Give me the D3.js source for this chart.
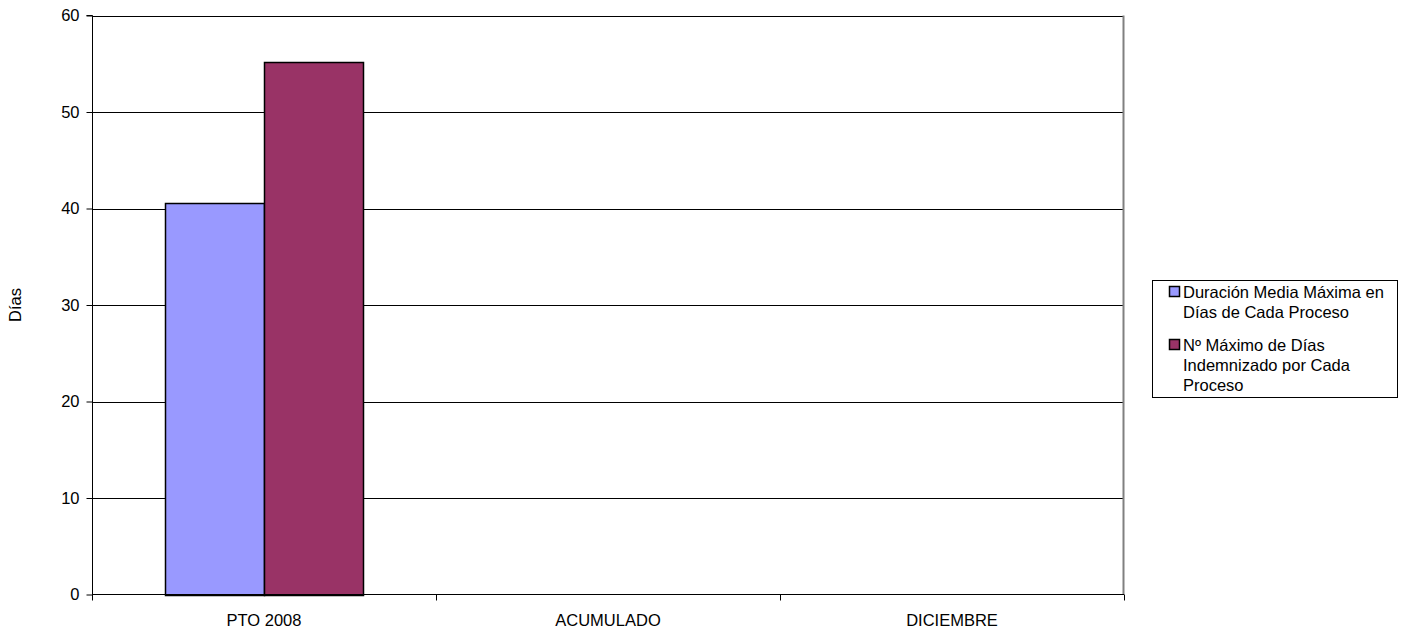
<!DOCTYPE html>
<html>
<head>
<meta charset="utf-8">
<script src="https://cdn.jsdelivr.net/npm/d3@7"></script>
<style>
  html, body { margin: 0; padding: 0; background: #fff; }
  svg { display: block; font-family: "Liberation Sans", Arial, sans-serif; }
</style>
</head>
<body>
<svg id="chart" width="1405" height="633"></svg>
<script>
const categories = ["PTO 2008", "ACUMULADO", "DICIEMBRE"];
const seriesNames = ["Duración Media Máxima en Días de Cada Proceso", "Nº Máximo de Días Indemnizado por Cada Proceso"];
const seriesLegendLines = [
  ["Duración Media Máxima en", "Días de Cada Proceso"],
  ["Nº Máximo de Días", "Indemnizado por Cada", "Proceso"]
];
const durationValues = [40.6, null, null];
const maxDaysValues = [55.2, null, null];
const seriesColors = ["#9999FF", "#993366"];
const yTicks = [0, 10, 20, 30, 40, 50, 60];
const yLabel = "Días";

const FS = 16.5;
const svg = d3.select("#chart");
const plot = { left: 92, right: 1124, top: 15.5, bottom: 594.5 };

const x = d3.scaleBand().domain(categories).range([plot.left, plot.right]).padding(0);
const gap = 1.47;
const xs = d3.scaleBand().domain([0, 1]).range([0, x.bandwidth()]).paddingInner(0).paddingOuter(gap / 2);
const y = d3.scaleLinear().domain([0, 60]).range([plot.bottom, plot.top]);

// gridlines
svg.append("g").selectAll("line").data(yTicks.filter(d => d > 0)).join("line")
  .attr("x1", plot.left).attr("x2", plot.right)
  .attr("y1", d => Math.round(y(d)) + 0.5).attr("y2", d => Math.round(y(d)) + 0.5)
  .attr("stroke", "#000").attr("stroke-width", 1);

// right border of plot area
svg.append("line").attr("x1", plot.right - 0.5).attr("x2", plot.right - 0.5)
  .attr("y1", plot.top).attr("y2", plot.bottom)
  .attr("stroke", "#808080").attr("stroke-width", 2);

// bars
const series = [durationValues, maxDaysValues];
const barData = [];
categories.forEach((c, i) => {
  series.forEach((s, j) => {
    if (s[i] != null) barData.push({ cat: c, s: j, v: s[i] });
  });
});
svg.append("g").selectAll("rect").data(barData).join("rect")
  .attr("x", d => Math.round(x(d.cat) + xs(d.s)) + 0.5)
  .attr("width", Math.round(xs.bandwidth()))
  .attr("y", d => Math.round(y(d.v)) + 0.5)
  .attr("height", d => Math.round(y(0)) - Math.round(y(d.v)))
  .attr("fill", d => seriesColors[d.s])
  .attr("stroke", "#000").attr("stroke-width", 1.5);

// y axis
const yAxis = d3.axisLeft(y).tickValues(yTicks).tickSize(6).tickPadding(7);
const gy = svg.append("g").attr("transform", `translate(${plot.left + 0.5},0)`).call(yAxis);
gy.select(".domain").attr("stroke", "#000").attr("d", `M-6,${plot.top}H0V${plot.bottom}`);
gy.selectAll(".tick line").attr("stroke", "#000");
gy.selectAll(".tick text").attr("font-size", FS).attr("fill", "#000")
  .attr("font-family", "Liberation Sans, Arial, sans-serif");

// x axis
const gx = svg.append("g").attr("transform", `translate(0,${plot.bottom})`);
gx.append("line").attr("x1", plot.left).attr("x2", plot.right).attr("y1", 0).attr("y2", 0).attr("stroke", "#000");
const boundaries = categories.map(c => x(c)).concat([plot.right]);
gx.selectAll("line.tk").data(boundaries).join("line").attr("class", "tk")
  .attr("x1", d => Math.round(d) + 0.5).attr("x2", d => Math.round(d) + 0.5)
  .attr("y1", 0).attr("y2", 6).attr("stroke", "#000");
gx.selectAll("text").data(categories).join("text")
  .attr("x", d => x(d) + x.bandwidth() / 2).attr("y", 31)
  .attr("text-anchor", "middle").attr("font-size", FS).attr("fill", "#000")
  .text(d => d);

// y label
svg.append("text").attr("transform", `translate(21,${(plot.top + plot.bottom) / 2}) rotate(-90)`)
  .attr("text-anchor", "middle").attr("font-size", FS).attr("fill", "#000").text(yLabel);

// legend
const lg = svg.append("g");
lg.append("rect").attr("x", 1152.5).attr("y", 280.5).attr("width", 245).attr("height", 117)
  .attr("fill", "#fff").attr("stroke", "#000").attr("stroke-width", 1);
const itemTops = [292, 345];
seriesLegendLines.forEach((lines, i) => {
  lg.append("rect").attr("x", 1169.5).attr("y", itemTops[i] - 5.5).attr("width", 10).attr("height", 10)
    .attr("fill", seriesColors[i]).attr("stroke", "#000").attr("stroke-width", 1.5);
  const t = lg.append("text").attr("font-size", FS).attr("fill", "#000");
  lines.forEach((ln, k) => {
    t.append("tspan").attr("x", 1183).attr("y", itemTops[i] + 6 + k * 20).text(ln);
  });
});
</script>
</body>
</html>
